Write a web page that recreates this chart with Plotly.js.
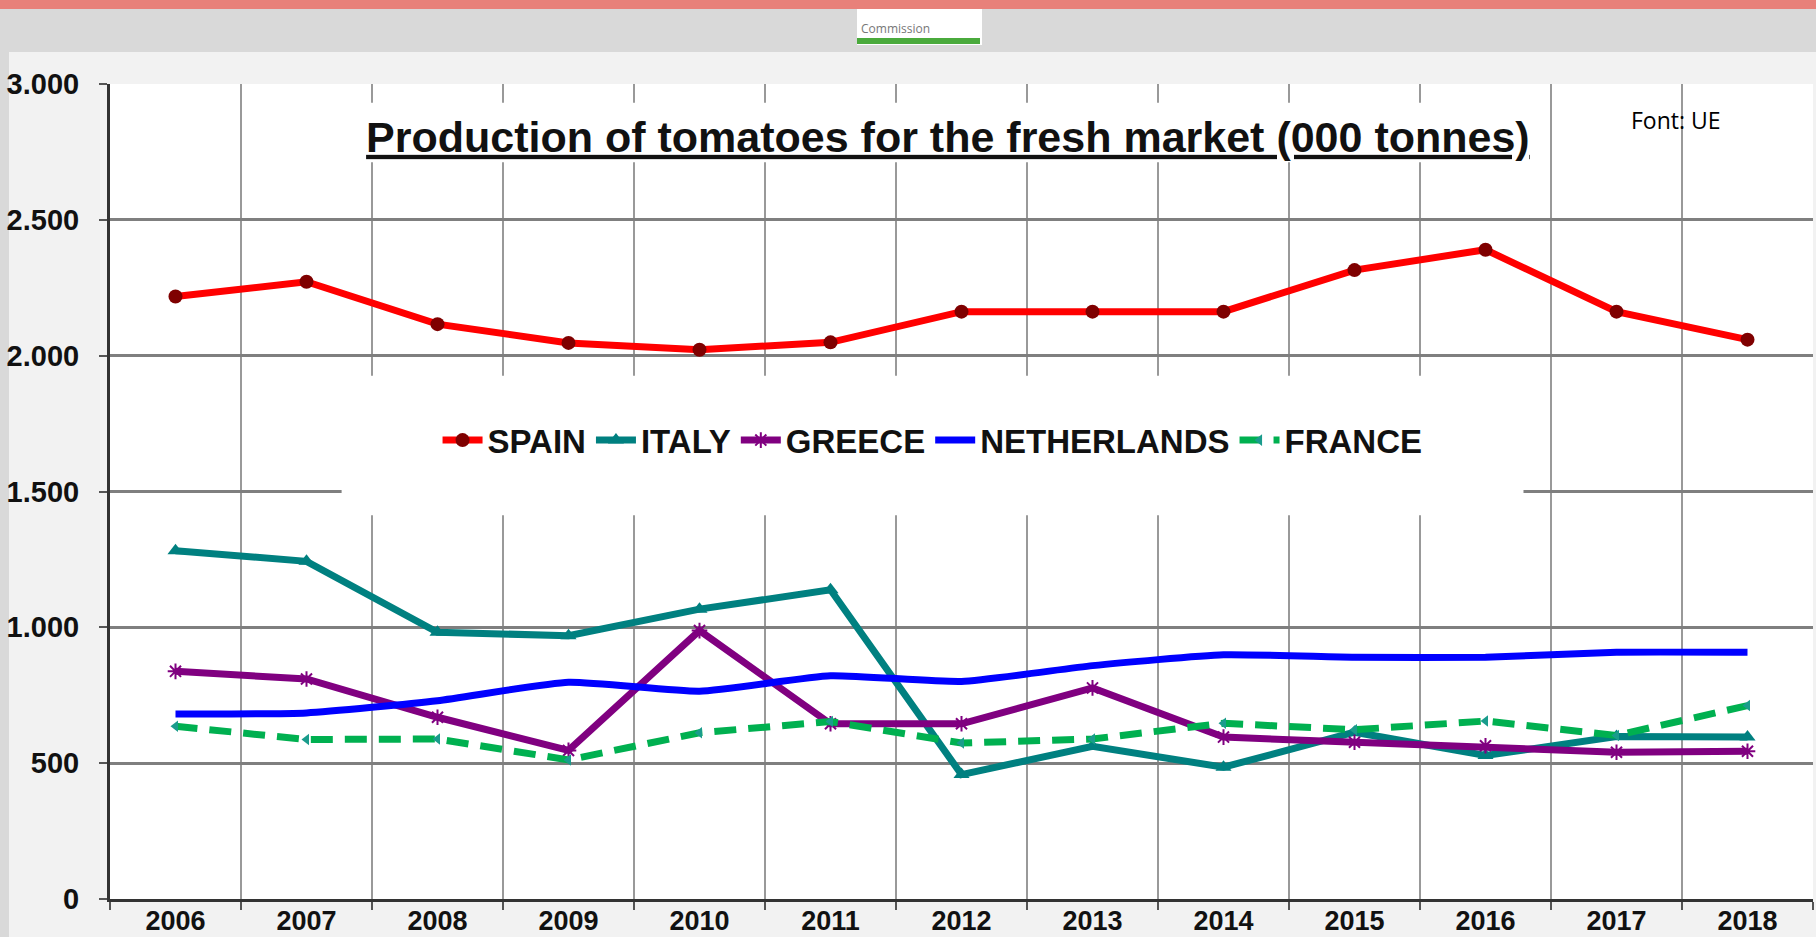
<!DOCTYPE html>
<html>
<head>
<meta charset="utf-8">
<script src="https://cdn.plot.ly/plotly-3.0.1.min.js"></script>
<style>
  html, body { margin: 0; padding: 0; width: 1816px; height: 937px; overflow: hidden; background: #f2f2f2; }
  #topbar { position: absolute; left: 0; top: 0; width: 1816px; height: 9px; background: #e8817a; }
  #band { position: absolute; left: 0; top: 9px; width: 1816px; height: 43px; background: #d9d9d9; }
  #leftstrip { position: absolute; left: 0; top: 52px; width: 9px; height: 885px; background: #d9d9d9; }
  #logo { position: absolute; left: 857px; top: 9px; width: 125px; height: 36px; background: #fff; overflow: hidden; }
  #logo .txt { position: absolute; left: 4px; top: 11px; font: 12px "Open Sans", sans-serif; color: #777; }
  #logo .green { position: absolute; left: 0; top: 29px; width: 123px; height: 6px; background: #4aaa3c; }
  #chart { position: absolute; left: 0; top: 0; width: 1816px; height: 937px; }
</style>
</head>
<body>
<div id="topbar"></div>
<div id="band"></div>
<div id="leftstrip"></div>
<div id="logo"><div class="txt">Commission</div><div class="green"></div></div>
<div id="chart"></div>
<script>
// years on the category axis
const years = ["2006", "2007", "2008", "2009", "2010", "2011", "2012",
               "2013", "2014", "2015", "2016", "2017", "2018"];

// production, thousand tonnes
const spain = [2218, 2272, 2116, 2047, 2022, 2049, 2162, 2162, 2162, 2315, 2390, 2162, 2059];
const italy = [1282, 1243, 982, 969, 1067, 1138, 458, 562, 485, 614, 528, 598, 596];
const greece = [838, 810, 669, 547, 988, 645, 645, 777, 596, 577, 564, 540, 544];
const netherlands = [681, 685, 730, 798, 765, 822, 801, 859, 899, 890, 890, 908, 908];
const france = [636, 587, 589, 512, 612, 653, 574, 589, 647, 623, 655, 602, 712];

const yTicks = [0, 500, 1000, 1500, 2000, 2500, 3000];

const FONT = "Liberation Sans, Arial, sans-serif";

var data = [
  {
    x: years, y: spain, name: "SPAIN", type: "scatter", mode: "lines+markers",
    line: { color: "#ff0000", width: 7 },
    marker: { symbol: "circle", size: 14, color: "#7f0000" }
  },
  {
    x: years, y: italy, name: "ITALY", type: "scatter", mode: "lines+markers",
    line: { color: "#008080", width: 7 },
    marker: { symbol: "triangle-up", size: 14, color: "#008080" }
  },
  {
    x: years, y: greece, name: "GREECE", type: "scatter", mode: "lines+markers",
    line: { color: "#800080", width: 7 },
    marker: { symbol: "asterisk-open", size: 13, color: "#800080", line: { color: "#800080", width: 2 } }
  },
  {
    x: years, y: netherlands, name: "NETHERLANDS", type: "scatter", mode: "lines",
    line: { color: "#0000ff", width: 7, shape: "spline", smoothing: 0.5 }
  },
  {
    x: years, y: france, name: "FRANCE", type: "scatter", mode: "lines+markers",
    line: { color: "#00b050", width: 7, dash: "22px,12px" },
    marker: { symbol: "triangle-left", size: 10, color: "#1a9c8c" }
  }
];

var layout = {
  width: 1816,
  height: 937,
  margin: { l: 110, r: 3, t: 84, b: 38 },
  paper_bgcolor: "rgba(0,0,0,0)",
  plot_bgcolor: "#ffffff",
  separators: ",.",
  showlegend: true,
  title: {
    text: "<u>Production of tomatoes for the fresh market (000 tonnes)</u>",
    font: { family: FONT, size: 43, weight: "bold", color: "#111" },
    xref: "paper", x: 0.492, xanchor: "center",
    yref: "container", y: 0.854, yanchor: "middle"
  },
  legend: {
    orientation: "h",
    x: 0.483, xanchor: "center",
    y: 0.563, yanchor: "middle",
    bgcolor: "rgba(0,0,0,0)",
    font: { family: FONT, size: 33, weight: "bold", color: "#111" },
    itemwidth: 40
  },
  xaxis: {
    type: "category",
    range: [-0.5, 12.5],
    tickson: "boundaries",
    ticks: "outside", ticklen: 8, tickwidth: 2, tickcolor: "#555",
    ticklabelstandoff: -4,
    showgrid: true, gridcolor: "#999", gridwidth: 2,
    showline: true, linecolor: "#333", linewidth: 3,
    tickfont: { family: FONT, size: 27, weight: "bold", color: "#111" },
    fixedrange: true
  },
  yaxis: {
    range: [0, 3000],
    tickvals: yTicks,
    tickformat: ",d",
    ticks: "outside", ticklen: 8, tickwidth: 2, tickcolor: "#555",
    ticklabelstandoff: 14,
    showgrid: true, gridcolor: "#7f7f7f", gridwidth: 3,
    zeroline: false,
    showline: true, linecolor: "#333", linewidth: 3,
    tickfont: { family: FONT, size: 29, weight: "bold", color: "#111" },
    fixedrange: true
  },
  shapes: [
    // white box behind the title (covers the grid, no data there)
    { type: "rect", xref: "paper", yref: "paper", x0: 0.144, x1: 0.840, y0: 0.904, y1: 0.977,
      fillcolor: "#ffffff", line: { width: 0 }, layer: "above" },
    // white box behind the legend
    { type: "rect", xref: "paper", yref: "paper", x0: 0.136, x1: 0.830, y0: 0.471, y1: 0.642,
      fillcolor: "#ffffff", line: { width: 0 }, layer: "above" }
  ],
  annotations: [
    { text: "Font: UE", xref: "paper", yref: "paper", x: 0.9195, y: 0.956,
      xanchor: "center", yanchor: "middle", showarrow: false,
      font: { family: "Open Sans, sans-serif", size: 23, color: "#000" } }
  ]
};

Plotly.newPlot("chart", data, layout, { displayModeBar: false, staticPlot: true });
</script>
</body>
</html>
